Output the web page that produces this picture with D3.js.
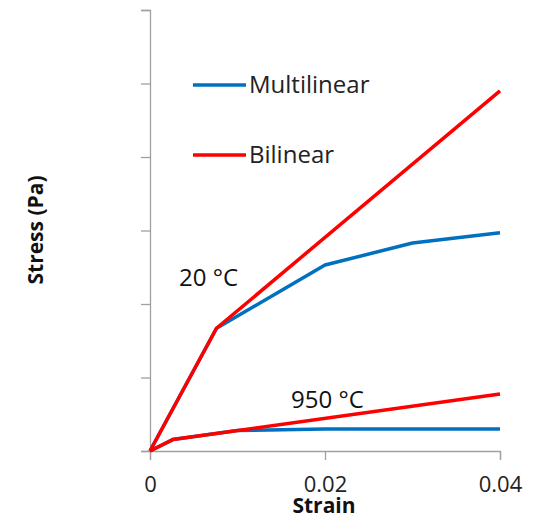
<!DOCTYPE html>
<html><head><meta charset="utf-8">
<script src="https://cdn.jsdelivr.net/npm/d3@7"></script>
<style>body{margin:0;background:#fff}svg{display:block}text{font-family:"Open Sans",sans-serif}</style>
</head><body>
<script>
const xTicks = [0, 0.02, 0.04];
const xTickLabels = ["0", "0.02", "0.04"];
const yTicks = [0, 1, 2, 3, 4, 5, 6];
const bil20Strain = [0, 0.0076, 0.04];
const bil20Stress = [0, 1.67, 4.90];
const mul20Strain = [0, 0.0076, 0.02, 0.03, 0.04];
const mul20Stress = [0, 1.67, 2.53, 2.83, 2.97];
const bil950Strain = [0, 0.0026, 0.04];
const bil950Stress = [0, 0.155, 0.775];
const mul950Strain = [0, 0.0026, 0.01, 0.02, 0.04];
const mul950Stress = [0, 0.155, 0.28, 0.298, 0.30];
const seriesNames = ["Multilinear", "Bilinear"];
const colors = ["#0070C0", "#FF0000"];

const W = 535, H = 515;
const svg = d3.select("body").append("svg").attr("width", W).attr("height", H);
const x = d3.scaleLinear().domain([0, 0.04]).range([150, 500]);
const y = d3.scaleLinear().domain([0, 6]).range([451, 10]);
const axisColor = "#a0a0a0";

const xa = svg.append("g").attr("transform", "translate(0,451)")
  .call(d3.axisBottom(x).tickValues(xTicks).tickSize(9).tickFormat((d, i) => xTickLabels[i]));
const ya = svg.append("g").attr("transform", "translate(150,0)")
  .call(d3.axisLeft(y).tickValues(yTicks).tickSize(9).tickFormat(""));
[xa, ya].forEach(g => {
  g.select(".domain").attr("stroke", axisColor).attr("stroke-width", 1.3);
  g.selectAll(".tick line").attr("stroke", axisColor).attr("stroke-width", 1.3);
});
xa.selectAll(".tick text").attr("font-size", 22).attr("fill", "#222").attr("dy", "0").attr("y", 41)
  .style("font-family", "'Open Sans',sans-serif");

const line = d3.line().x(d => x(d[0])).y(d => y(d[1]));
const zip = (a, b) => a.map((v, i) => [v, b[i]]);
const drawn = [
  [mul20Strain, mul20Stress, 0],
  [mul950Strain, mul950Stress, 0],
  [bil20Strain, bil20Stress, 1],
  [bil950Strain, bil950Stress, 1]
];
drawn.forEach(([sx, sy, c]) => {
  svg.append("path").attr("d", line(zip(sx, sy))).attr("fill", "none")
    .attr("stroke", colors[c]).attr("stroke-width", 3.5).attr("stroke-linejoin", "round");
});

// legend
seriesNames.forEach((n, i) => {
  const ly = 85 + i * 70;
  svg.append("line").attr("x1", 193).attr("x2", 246).attr("y1", ly).attr("y2", ly)
    .attr("stroke", colors[i]).attr("stroke-width", 3.5);
  svg.append("text").attr("x", 249).attr("y", ly + 8).attr("font-size", 24).attr("fill", "#222").text(n);
});

svg.append("text").attr("x", 179).attr("y", 286).attr("font-size", 24).attr("fill", "#111").text("20 °C");
svg.append("text").attr("x", 291).attr("y", 408).attr("font-size", 24).attr("fill", "#111").text("950 °C");

svg.append("text").attr("x", 324).attr("y", 513).attr("text-anchor", "middle")
  .attr("font-size", 21).attr("font-weight", "bold").attr("fill", "#111").text("Strain");
svg.append("text").attr("transform", "translate(43,230) rotate(-90)").attr("text-anchor", "middle")
  .attr("font-size", 21).attr("font-weight", "bold").attr("fill", "#111").text("Stress (Pa)");
</script>
</body></html>
